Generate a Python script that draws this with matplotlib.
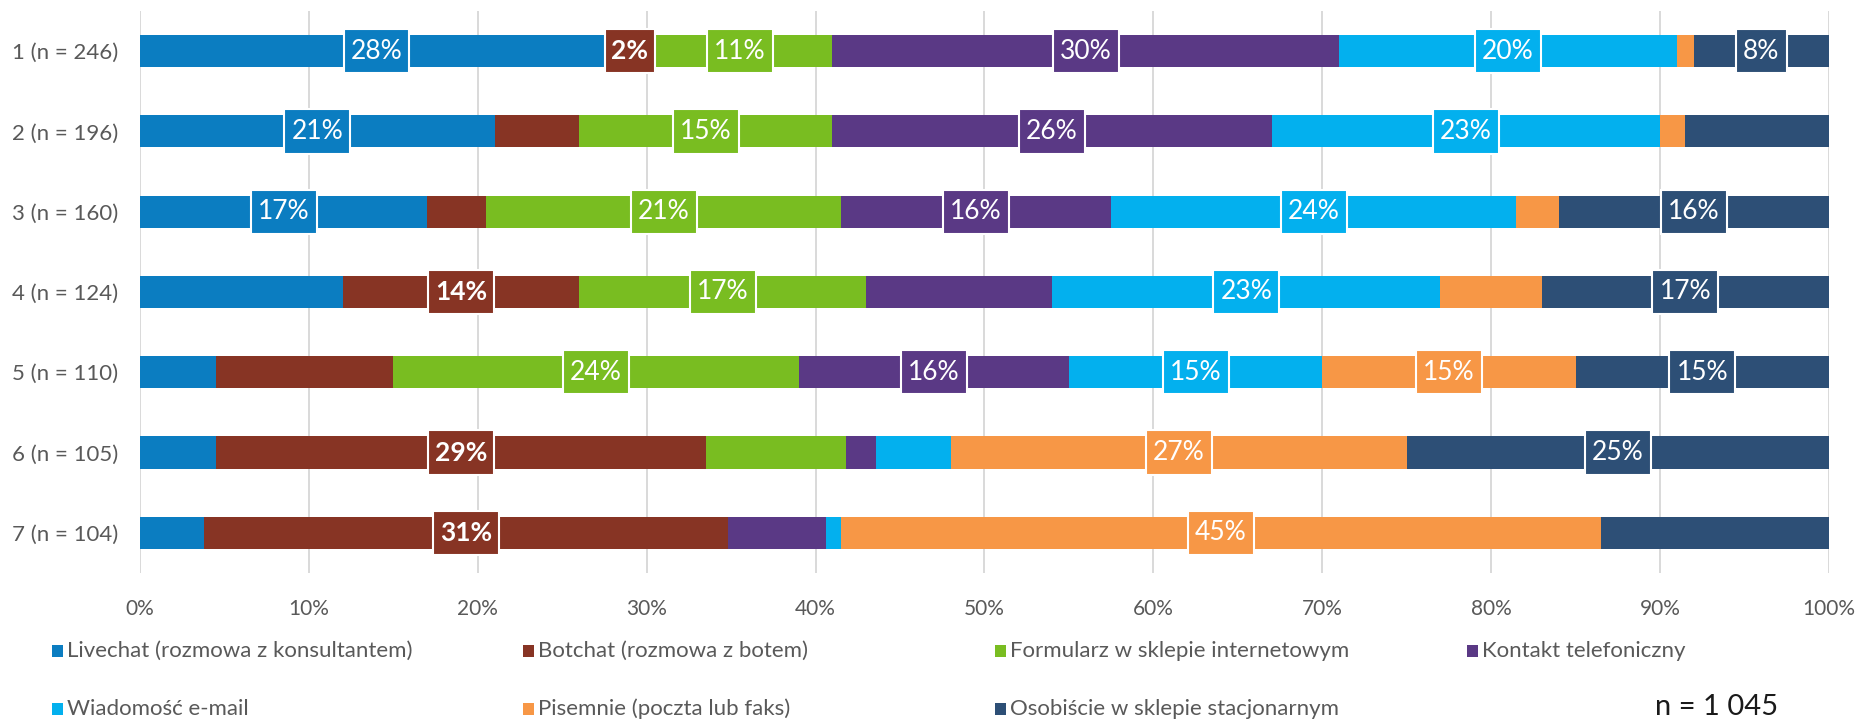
import matplotlib.pyplot as plt
from matplotlib.patches import Rectangle

plt.rcParams['font.family'] = ['Lato', 'DejaVu Sans']

# Rows and series
rows = ['1 (n = 246)', '2 (n = 196)', '3 (n = 160)', '4 (n = 124)',
        '5 (n = 110)', '6 (n = 105)', '7 (n = 104)']
series = ['Livechat (rozmowa z konsultantem)', 'Botchat (rozmowa z botem)',
          'Formularz w sklepie internetowym', 'Kontakt telefoniczny',
          'Wiadomość e-mail', 'Pisemnie (poczta lub faks)',
          'Osobiście w sklepie stacjonarnym']
colors = ['#0B7DC1', '#873424', '#79BD21', '#5A3985', '#03B0EE', '#F79746', '#2D4F76']

livechat = [28, 21, 17, 12, 4.5, 4.5, 3.8]
botchat = [2, 5, 3.5, 14, 10.5, 29, 31]
formularz = [11, 15, 21, 17, 24, 8.3, 0]
kontakt = [30, 26, 16, 11, 16, 1.8, 5.8]
email = [20, 23, 24, 23, 15, 4.4, 0.9]
pisemnie = [1, 1.5, 2.5, 6, 15, 27, 45]
osobiscie = [8, 8.5, 16, 17, 15, 25, 13.5]
values = [livechat, botchat, formularz, kontakt, email, pisemnie, osobiscie]

# which segments carry a value label (per series, per row)
show_label = [
    [1, 1, 1, 0, 0, 0, 0],
    [1, 0, 0, 1, 0, 1, 1],
    [1, 1, 1, 1, 1, 0, 0],
    [1, 1, 1, 0, 1, 0, 0],
    [1, 1, 1, 1, 1, 0, 0],
    [0, 0, 0, 0, 1, 1, 1],
    [1, 0, 1, 1, 1, 1, 0],
]
total_n = 'n = 1 045'

fig = plt.figure(figsize=(18.6, 7.19), dpi=100)
ax = fig.add_axes([0.0753, 0.2031, 0.9080, 0.7816])

y = list(range(len(rows)))
left = [0.0] * len(rows)
for k, (name, vals, col) in enumerate(zip(series, values, colors)):
    ax.barh(y, vals, left=left, height=0.4, color=col, zorder=2, label=name)
    for i, v in enumerate(vals):
        if show_label[k][i]:
            txt = f'{v:.0f}%'
            cx = left[i] + v / 2
            bw = 3.9 if len(txt) > 2 else 3.0
            ax.add_patch(Rectangle((cx - bw / 2, i - 0.275), bw, 0.55, fc=col,
                                   ec='white', lw=1.5, zorder=3))
            ax.text(cx, i, txt, ha='center', va='center', color='white',
                    fontsize=19, fontweight='bold' if k == 1 else 'normal',
                    zorder=4)
    left = [a + b for a, b in zip(left, vals)]

ax.set_xlim(0, 100)
ax.set_ylim(len(rows) - 0.5, -0.5)
ax.set_xticks(range(0, 101, 10))
ax.set_xticklabels([f'{t}%' for t in range(0, 101, 10)])
ax.set_yticks(y)
ax.set_yticklabels(rows)
ax.grid(axis='x', color='#d9d9d9', lw=1.4, zorder=0)
ax.tick_params(length=0, labelsize=15, labelcolor='#595959')
ax.tick_params(axis='y', labelsize=16, pad=16)
ax.tick_params(axis='x', pad=19)
for s in ax.spines.values():
    s.set_visible(False)

# legend laid out in fixed columns, two rows
W, H = 1860, 719
col_x = [52, 523, 995, 1467]
row_y = [651, 709]
order = [(0, 0), (0, 1), (0, 2), (0, 3), (1, 0), (1, 1), (1, 2)]
for (r, c), name, col in zip(order, series, colors):
    x0, y0 = col_x[c], row_y[r]
    fig.patches.append(Rectangle((x0 / W, 1 - (y0 + 6) / H), 11 / W, 12 / H,
                                 transform=fig.transFigure, fc=col, ec='none'))
    fig.text((x0 + 15) / W, 1 - y0 / H, name, ha='left', va='center',
             fontsize=16, color='#595959')

fig.text(1717 / W, 1 - 707 / H, total_n, ha='center', va='center',
         fontsize=21, color='#1a1a1a')

fig.savefig('out.png', dpi=100)
